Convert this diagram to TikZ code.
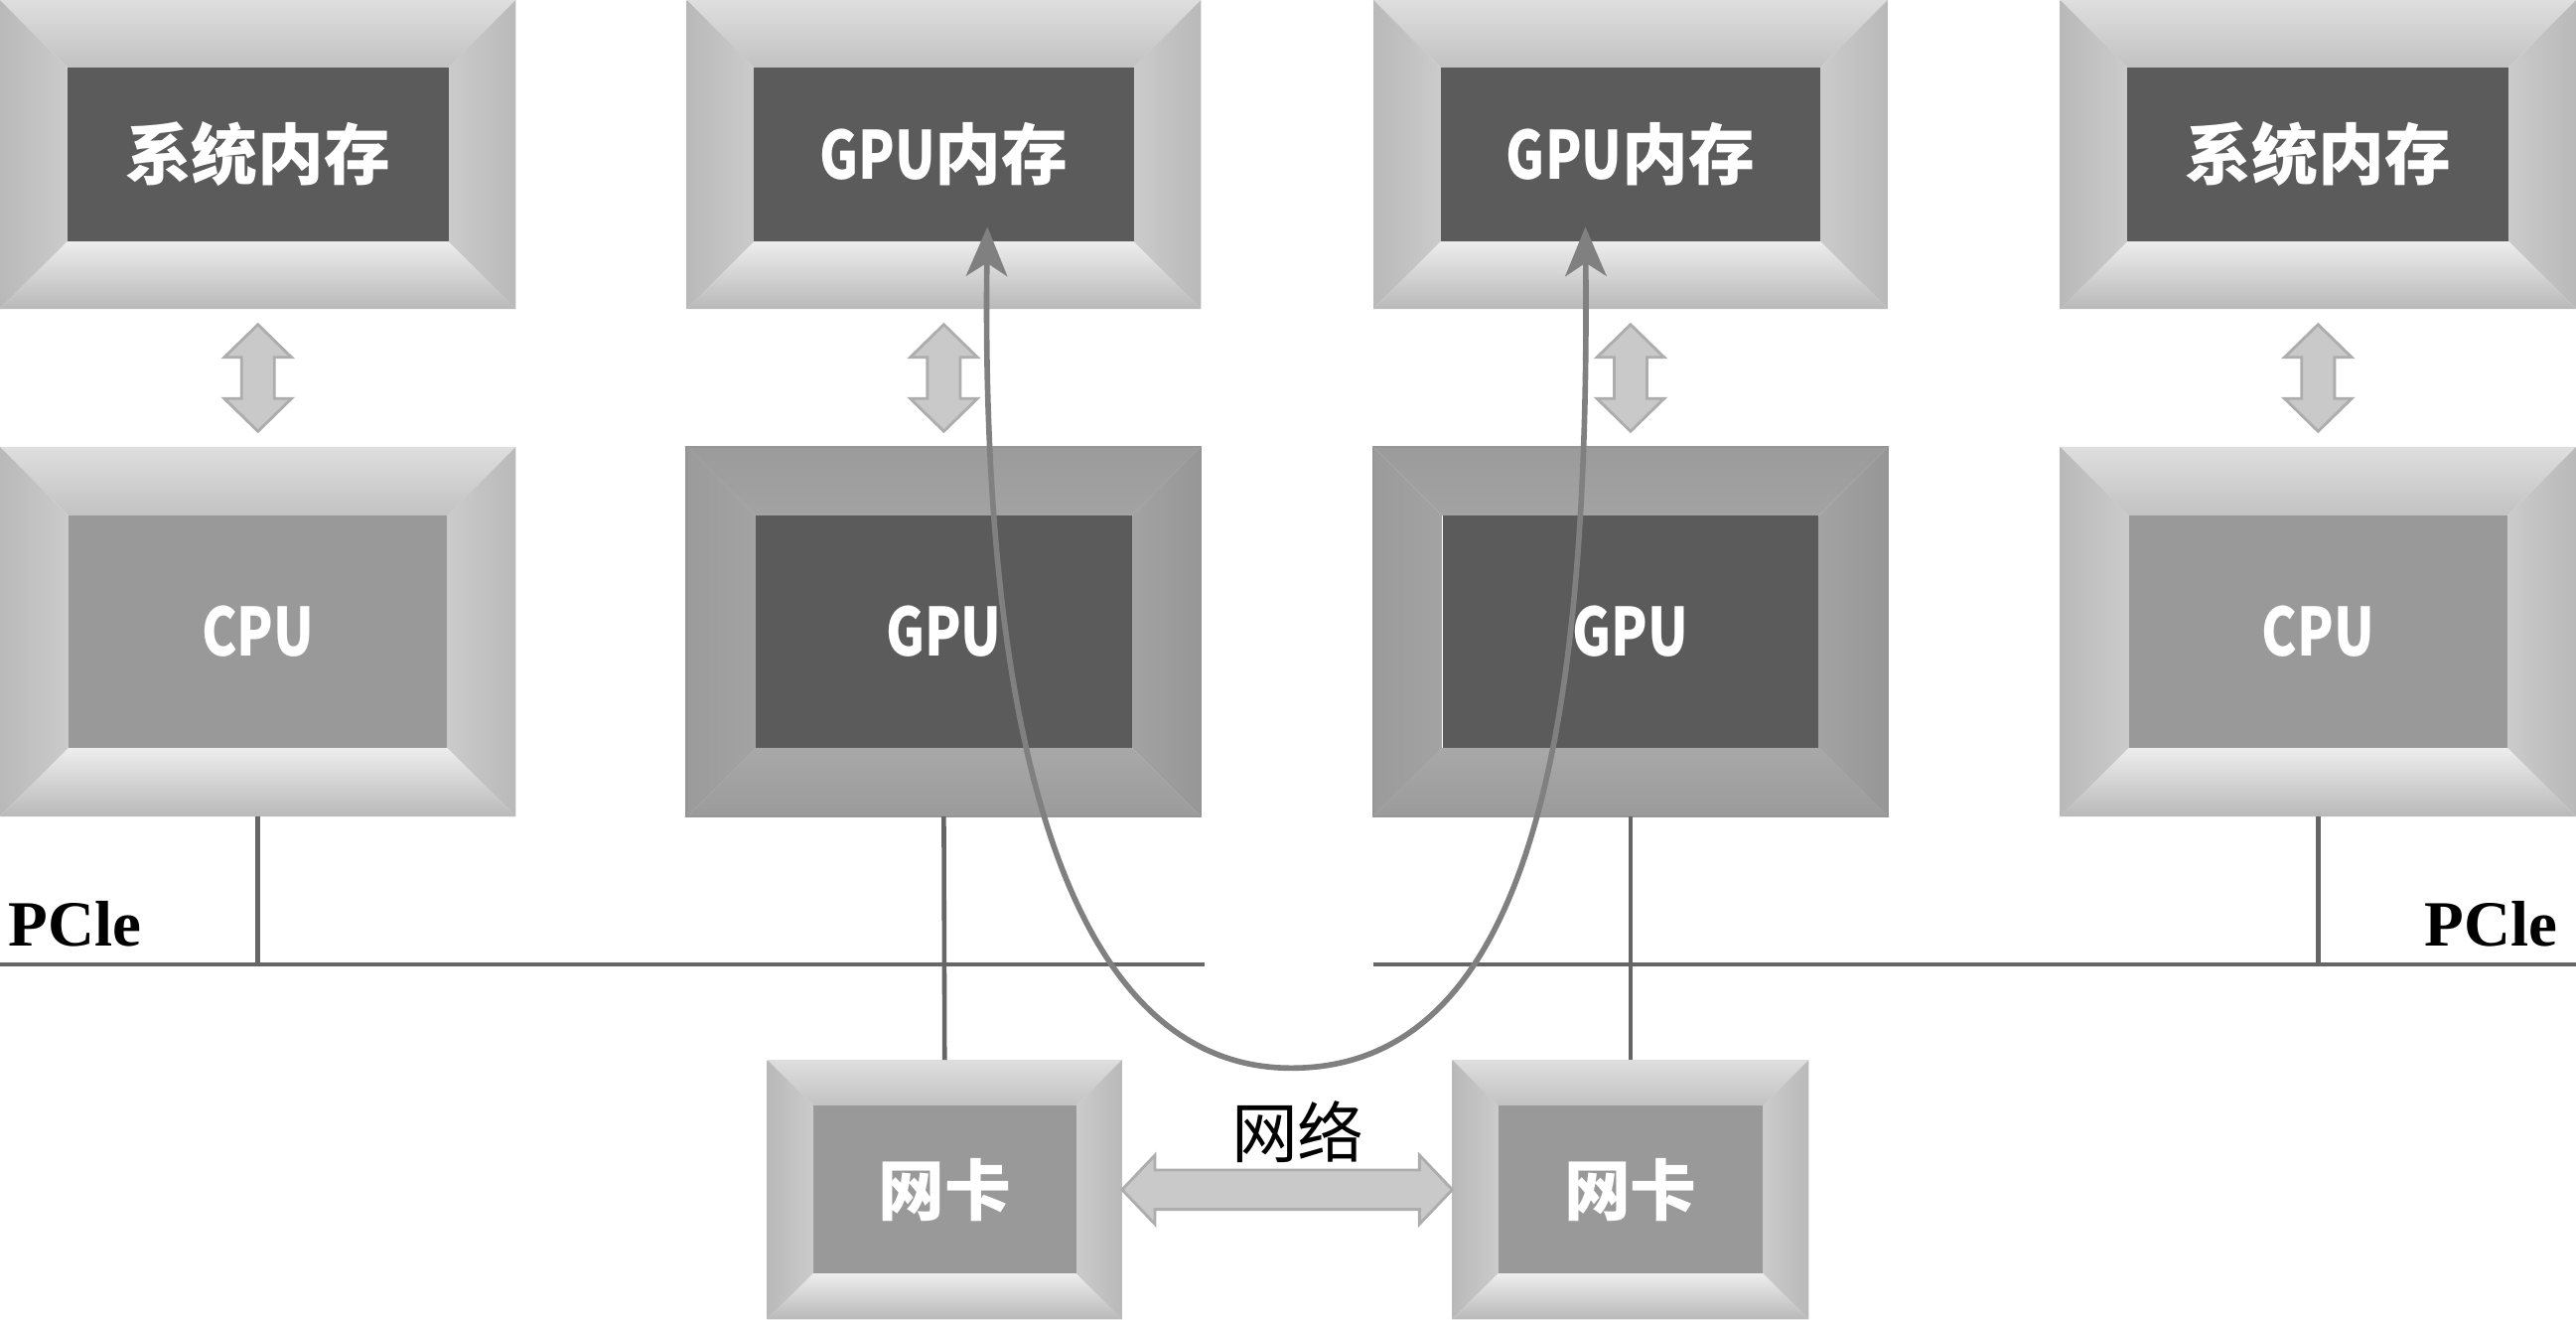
\documentclass[tikz,border=0pt]{standalone}
\usepackage{fontspec}
\usepackage{graphicx}
\setmainfont{Liberation Serif}
\newfontfamily\cjk{Noto Sans CJK SC}
\usetikzlibrary{fit,arrows.meta,calc}
\definecolor{darkin}{HTML}{5B5B5B}
\definecolor{midin}{HTML}{999999}
\definecolor{lineg}{HTML}{666666}
\definecolor{curveg}{HTML}{808080}
\definecolor{arrfill}{HTML}{C9C9C9}
\definecolor{arrdraw}{HTML}{ADADAD}
\definecolor{ltA}{HTML}{DEDEDE}
\definecolor{ltB}{HTML}{C2C2C2}
\definecolor{ltC}{HTML}{B9B9B9}
\definecolor{ltD}{HTML}{CBCBCB}
\definecolor{ltE}{HTML}{EDEDED}
\definecolor{gpA}{HTML}{9B9B9B}
\definecolor{gpB}{HTML}{A3A3A3}
\definecolor{gpC}{HTML}{969696}
\definecolor{gpE}{HTML}{A8A8A8}
\newcommand\nar[1]{\scalebox{0.8}[1]{#1}}
\tikzset{
  lttop/.style={top color=ltA, bottom color=ltB},
  ltleft/.style={left color=ltC, right color=ltD},
  ltright/.style={left color=ltD, right color=ltC},
  ltbottom/.style={top color=ltE, bottom color=ltC},
  ltedge/.style={draw=none},
  gptop/.style={top color=gpA, bottom color=gpB},
  gpleft/.style={left color=gpA, right color=gpB},
  gpright/.style={left color=gpB, right color=gpC},
  gpbottom/.style={top color=gpE, bottom color=gpA},
  gpedge/.style={draw=gpC, line width=0.6pt},
  boxtext/.style={text=white, font=\cjk\bfseries\fontsize{19}{22}\selectfont, inner sep=0pt},
  arrstyle/.style={fill=arrfill, draw=arrdraw, line width=0.8pt, line join=miter},
  busline/.style={draw=lineg, line width=1.3pt},
  curveline/.style={draw=curveg, line width=1.6pt,
    {Stealth[length=30*0.016543cm, width=25*0.016543cm, inset=8*0.016543cm]}-{Stealth[length=30*0.016543cm, width=25*0.016543cm, inset=8*0.016543cm]}},
  pcie/.style={font=\bfseries\fontsize{18.5}{20}\selectfont, inner sep=0pt, text=black},
  nettext/.style={font=\cjk\fontsize{19}{22}\selectfont, inner sep=0pt, text=black},
}
% #1 name, #2 x1, #3 y1, #4 x2, #5 y2, #6 bevel, #7 frame style prefix, #8 inner colour, #9 text
\newcommand\bevbox[9]{%
  \coordinate (#1-nw) at (#2,#3);
  \coordinate (#1-se) at (#4,#5);
  \node[fit=(#1-nw)(#1-se), inner sep=0pt, outer sep=0pt] (#1) {};
  \shade[#7top] (#2,#3) -- (#4,#3) -- (#4-#6,#3+#6) -- (#2+#6,#3+#6) -- cycle;
  \shade[#7left] (#2,#3) -- (#2+#6,#3+#6) -- (#2+#6,#5-#6) -- (#2,#5) -- cycle;
  \shade[#7right] (#4,#3) -- (#4-#6,#3+#6) -- (#4-#6,#5-#6) -- (#4,#5) -- cycle;
  \shade[#7bottom] (#2,#5) -- (#2+#6,#5-#6) -- (#4-#6,#5-#6) -- (#4,#5) -- cycle;
  \path[#7edge] (#2,#3) rectangle (#4,#5);
  \fill[#8] (#2+#6,#3+#6) rectangle (#4-#6,#5-#6);
  \node[boxtext] (#1-t) at (#1.center) {#9};
}
% vertical block double arrow between two boxes: #1 name, #2 upper box, #3 lower box
\newcommand\vdarrow[3]{%
  \coordinate (#1) at ($(#2.south)!0.5!(#3.north)$);
  \filldraw[arrstyle] ($(#1)+(0,-32.5)$) -- ++(20.5,20) -- ++(-10.5,0) -- ++(0,25) -- ++(10.5,0)
    -- ++(-20.5,20) -- ++(-20.5,-20) -- ++(10.5,0) -- ++(0,-25) -- ++(-10.5,0) -- cycle;
}
\begin{document}
\begin{tikzpicture}[x=0.016543cm, y=-0.016543cm]
\useasboundingbox (0,0) rectangle (1568,803);
\fill[white] (0,0) rectangle (1568,803);
% memory row
\bevbox{memA}{0}{0}{314}{188}{41}{lt}{darkin}{系统内存}
\bevbox{memB}{418}{0}{731}{188}{41}{lt}{darkin}{\nar{GPU}内存}
\bevbox{memC}{836}{0}{1149}{188}{41}{lt}{darkin}{\nar{GPU}内存}
\bevbox{memD}{1254}{0}{1568}{188}{41}{lt}{darkin}{系统内存}
% processor row
\bevbox{cpuA}{0}{272}{314}{497}{42}{lt}{midin}{\nar{CPU}}
\bevbox{gpuB}{418}{272}{731}{497}{42}{gp}{darkin}{\nar{GPU}}
\bevbox{gpuC}{836}{272}{1149}{497}{42}{gp}{darkin}{\nar{GPU}}
\bevbox{cpuD}{1254}{272}{1568}{497}{42}{lt}{midin}{\nar{CPU}}
% network cards
\bevbox{nicL}{467}{645}{683}{803}{28}{lt}{midin}{网卡}
\bevbox{nicR}{884}{645}{1101}{803}{28}{lt}{midin}{网卡}
% memory <-> processor arrows
\vdarrow{arrA}{memA}{cpuA}
\vdarrow{arrB}{memB}{gpuB}
\vdarrow{arrC}{memC}{gpuC}
\vdarrow{arrD}{memD}{cpuD}
% PCIe buses
\coordinate (busL0) at (0,587);
\coordinate (busL1) at (733,587);
\coordinate (busR0) at (836,587);
\coordinate (busR1) at (1568,587);
\draw[busline] (busL0) -- (busL1);
\draw[busline] (busR0) -- (busR1);
\draw[busline] (cpuA.south) -- (cpuA.south |- busL0);
\draw[busline] (cpuD.south) -- (cpuD.south |- busR0);
\draw[busline] (gpuB.south) -- (nicL.north);
\draw[busline] (gpuC.south) -- (nicR.north);
\node[pcie, anchor=base west] (pcieL) at (5,576) {PCle};
\node[pcie, anchor=base east] (pcieR) at (1557,576) {PCle};
% network
\coordinate (netarr) at ($(nicL.east)!0.5!(nicR.west)$);
\filldraw[arrstyle] ($(netarr)+(-100.5,0)$) -- ++(20,-21) -- ++(0,9) -- ++(161,0) -- ++(0,-9)
  -- ++(20,21) -- ++(-20,21) -- ++(0,-9) -- ++(-161,0) -- ++(0,9) -- cycle;
\node[nettext] (netlbl) at (790,689) {网络};
% GPU-direct curve
\coordinate (tipL) at (601,138);
\coordinate (tipR) at (965,138);
\coordinate (cbot) at (786,650);
\draw[curveline] (tipL) .. controls (597,450) and (650,650) .. (cbot) .. controls (930,650) and (968,450) .. (tipR);
\end{tikzpicture}
\end{document}
